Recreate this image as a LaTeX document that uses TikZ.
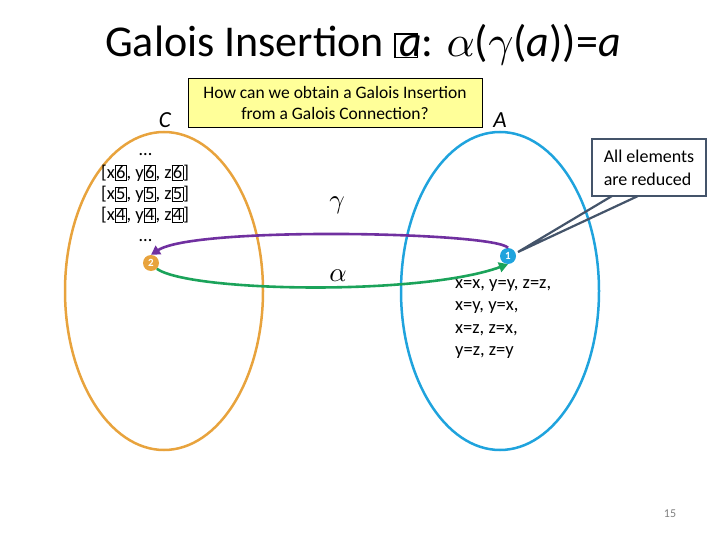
\documentclass[tikz,border=0pt]{standalone}
\usepackage{fontspec}
\setmainfont{Carlito}
\usetikzlibrary{arrows.meta}
% scalable math italic for the large Greek letters
\DeclareFontShape{OML}{cmm}{m}{it}{<->cmmi10}{}

\definecolor{corange}{HTML}{E8A33D}
\definecolor{cblue}{HTML}{1FA3DD}
\definecolor{cpurple}{HTML}{7030A0}
\definecolor{cgreen}{HTML}{1BA35A}
\definecolor{cslate}{HTML}{44546A}
\definecolor{cyellow}{HTML}{FFFF99}

% boxed digit, as the slide prints it
\newcommand{\bdig}[1]{{\setlength{\fboxsep}{0.6pt}\setlength{\fboxrule}{0.6pt}\fbox{#1}}}

\tikzset{
  setline/.style={line width=2.5pt},
  elem/.style={circle, inner sep=0pt, minimum size=16pt, text=white,
    font=\fontsize{11}{11}\selectfont\bfseries},
  maparrow/.style={line width=2.6pt, -{Triangle[length=9pt,width=10pt]}},
  listtext/.style={anchor=base west, inner sep=0pt, font=\fontsize{18.5}{18.5}\selectfont},
  maplabel/.style={font=\fontsize{27}{27}\selectfont},
}

\begin{document}
\begin{tikzpicture}[x=1pt,y=-1pt]
\useasboundingbox (0,0) rectangle (720,540);

% title
\node[anchor=base west, inner sep=0pt, font=\fontsize{44}{48}\selectfont] (title) at (105,57)
  {Galois Insertion {\setlength{\fboxsep}{0pt}\setlength{\fboxrule}{1.5pt}\fbox{\rule{0pt}{22pt}\hspace{21pt}}}\hspace{-19pt}\textit{a}: $\alpha$($\gamma$(\textit{a}))=\textit{a}};

% question box
\node[draw, fill=cyellow, line width=0.6pt, minimum width=294pt, minimum height=49pt,
  align=center, font=\fontsize{17.5}{21}\selectfont] (quest) at (335,102.5)
  {How can we obtain a Galois Insertion\\from a Galois Connection?};

  % the two sets
  \draw[corange, setline] (164,291) ellipse (99 and 159);
  \draw[cblue, setline] (500,291) ellipse (99 and 159);
\node[font=\fontsize{23}{23}\selectfont\itshape] (lc) at (165,120) {C};
\node[font=\fontsize{23}{23}\selectfont\itshape] (la) at (500,120) {A};

% elements of C
\node[listtext] (dtop) at (139,156) {\ldots};
\foreach \k/\y in {6/179, 5/200, 4/221} {
  \node[listtext] (c\k) at (101,\y) {[x\bdig{\k}, y\bdig{\k}, z\bdig{\k}]};
}
\node[listtext] (dbot) at (139,241) {\ldots};

% elements of A
\foreach \t/\y [count=\i] in {{x=x, y=y, z=z,}/288, {x=y, y=x,}/310, {x=z, z=x,}/333, {y=z, z=y}/355} {
  \node[listtext] (r\i) at (455,\y) {\t};
}

  % the two points
\node[elem, fill=corange] (two) at (151,263) {2};
\node[elem, fill=cblue] (one) at (508,256) {1};

  % gamma and alpha
  \draw[cpurple, maparrow] (one.north) .. controls (495,232) and (195,226) .. (two.north);
  \draw[cgreen, maparrow] (two.south east) .. controls (190,292) and (420,296) .. (one.south);
\node[maplabel] (lgamma) at (337,205) {$\gamma$};
\node[maplabel] (lalpha) at (338,276) {$\alpha$};

% callout
\node[draw=cslate, fill=white, line width=2.2pt, minimum width=114pt, minimum height=57pt,
  align=left, font=\fontsize{18}{23}\selectfont] (note) at (649,167.5)
  {All elements\\are reduced};
\coordinate (tip) at (518,252);
\coordinate (pa) at (612,196);
\coordinate (pb) at (638,196);
\draw[cslate, line width=2.2pt] (pa) -- (tip) -- (pb);

% page number
\node[text=gray, font=\fontsize{12}{12}\selectfont] (page) at (670,514) {15};
\end{tikzpicture}
\end{document}
